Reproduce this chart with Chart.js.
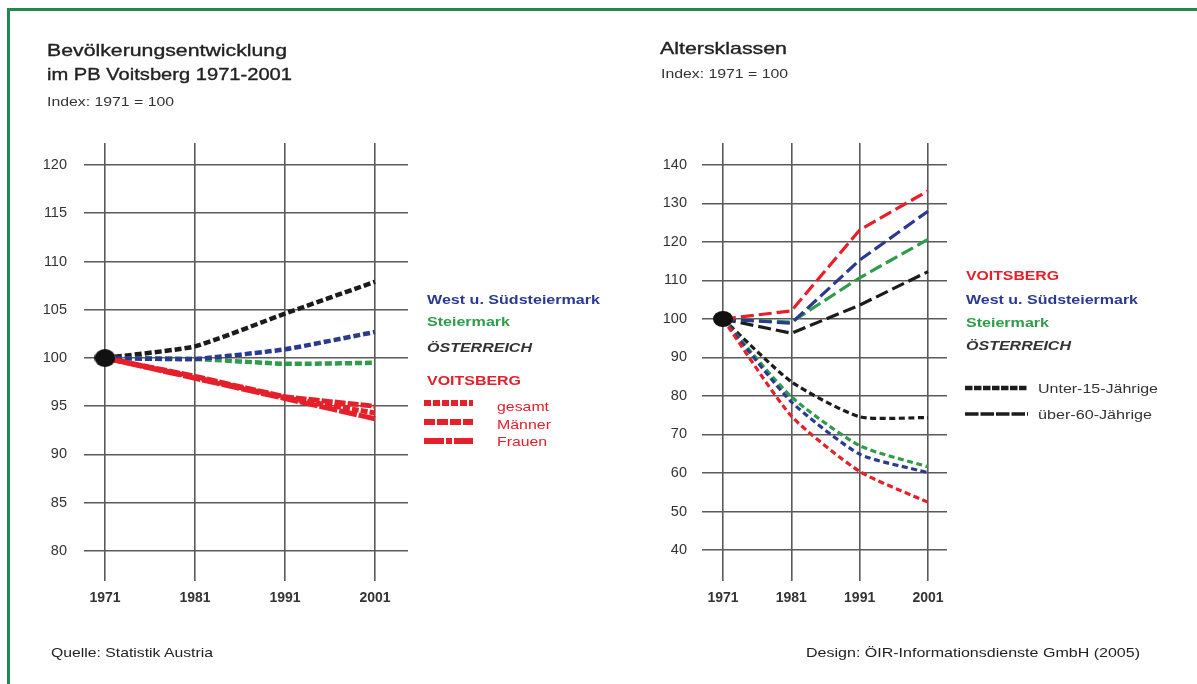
<!DOCTYPE html>
<html><head><meta charset="utf-8">
<script src="https://cdn.jsdelivr.net/npm/chart.js@4/dist/chart.umd.min.js"></script>
<style>
html,body{margin:0;padding:0;background:#fff;}
body{width:1197px;height:684px;overflow:hidden;position:relative;font-family:'Liberation Sans',Arial,sans-serif;}
#frame{position:absolute;left:7px;top:8px;width:1300px;height:800px;border-left:3px solid #1f8a4d;border-top:3px solid #1f8a4d;}
canvas{position:absolute;top:0;}
#c1{left:0;} #c2{left:600px;}
</style></head>
<body>
<div id="frame"></div>
<canvas id="c1" width="600" height="684" style="width:600px;height:684px"></canvas>
<canvas id="c2" width="597" height="684" style="width:597px;height:684px"></canvas>
<script>
// ---------- data ----------
const years = [1971, 1981, 1991, 2001];
const tickYears = [1971, 1981, 1991, 2001];
const baseYear = [1971];
const baseIndex = [100];

// Left: Bevölkerungsentwicklung (Index 1971 = 100)
const popOesterreich      = [100, 101.2, 104.6, 107.9];
const popWestSued         = [100, 99.9, 100.9, 102.7];
const popSteiermark       = [100, 99.9, 99.4, 99.5];
const popVoitsbergGesamt  = [100, 98.0, 95.9, 94.3];
const popVoitsbergMaenner = [100, 98.1, 96.0, 95.0];
const popVoitsbergFrauen  = [100, 97.9, 95.8, 93.7];
const leftYTicks = [80, 85, 90, 95, 100, 105, 110, 115, 120];

// Right: Altersklassen
const u15Voitsberg   = [100, 74.8, 60.4, 52.4];
const u15WestSued    = [100, 78.5, 64.9, 60.1];
const u15Steiermark  = [100, 79.8, 67.1, 61.6];
const u15Oesterreich = [100, 83.7, 74.6, 74.4];
const o60Voitsberg   = [100, 102.1, 123.1, 133.3];
const o60WestSued    = [100, 98.9, 115.3, 128.0];
const o60Steiermark  = [100, 99.2, 110.7, 120.7];
const o60Oesterreich = [100, 96.3, 103.6, 112.3];
const rightYTicks = [40, 50, 60, 70, 80, 90, 100, 110, 120, 130, 140];

// ---------- styles ----------
const RED='#e5202b', BLUE='#2b3a8f', GREEN='#2e9c4a', BLACK='#1c1c1c', GRID='#5a5a5a', TXT='#333';
const FAM="'Liberation Sans', Arial, sans-serif";

function xy(vals){ return years.map((y,i)=>({x:y,y:vals[i]})); }
function ellipse(w,h){
  const c=document.createElement('canvas'); c.width=w; c.height=h;
  const g=c.getContext('2d'); g.fillStyle='#111'; g.beginPath();
  g.ellipse(w/2,h/2,w/2,h/2,0,0,Math.PI*2); g.fill(); return c;
}
function ln(vals,color,width,dash,tension,order){
  return {data:xy(vals),borderColor:color,borderWidth:width,borderDash:dash,borderCapStyle:'butt',
          pointRadius:0,tension:tension,fill:false,order:order};
}
function dot(w,h){
  return {data:baseYear.map((y,i)=>({x:y,y:baseIndex[i]})),showLine:false,pointStyle:ellipse(w,h),
          pointRadius:10,order:0};
}
function scales(xmin,xmax,ymin,ymax,yTicks,yWidth,yPad){
  return {
    x:{type:'linear',min:xmin,max:xmax,
       afterBuildTicks:s=>{s.ticks=tickYears.map(v=>({value:v}));},
       afterFit:s=>{s.height=50;},
       ticks:{callback:v=>String(v),color:TXT,padding:9,font:{family:FAM,size:14,weight:'bold'},maxRotation:0,autoSkip:false},
       grid:{color:GRID,lineWidth:1.6,drawTicks:false},border:{display:false}},
    y:{type:'linear',min:ymin,max:ymax,
       afterBuildTicks:s=>{s.ticks=yTicks.map(v=>({value:v}));},
       afterFit:s=>{s.width=yWidth;},
       ticks:{callback:v=>String(v),color:TXT,padding:yPad,font:{family:FAM,size:14.5},autoSkip:false},
       grid:{color:GRID,lineWidth:1.6,drawTicks:false},border:{display:false}}
  };
}
function samplesPlugin(items){
  return {id:'samples',afterDatasetsDraw(chart){
    const g=chart.ctx; g.save();
    items.forEach(it=>{g.strokeStyle=it.color;g.lineWidth=it.w;g.setLineDash(it.dash);g.lineCap='butt';
      g.beginPath();g.moveTo(it.x0,it.y);g.lineTo(it.x1,it.y);g.stroke();});
    g.restore();}};
}
const common={animation:false,responsive:false,devicePixelRatio:1,
  plugins:{legend:{display:false},tooltip:{enabled:false}}};

// ---------- left chart ----------
new Chart(document.getElementById('c1'),{
  type:'line',
  data:{datasets:[
    ln(popOesterreich,BLACK,4.5,[7,3],0.15,4),
    ln(popWestSued,BLUE,4.5,[7,3],0.15,3),
    ln(popSteiermark,GREEN,4.5,[7,3],0.15,3),
    ln(popVoitsbergFrauen,RED,5,[18,2],0.1,2),
    ln(popVoitsbergMaenner,RED,5,[11,2],0.1,2),
    ln(popVoitsbergGesamt,RED,5,[7,2],0.1,1),
    dot(21,18)
  ]},
  options:Object.assign({},common,{
    layout:{padding:{left:0,top:143,right:192,bottom:53}},
    scales:scales(1968.667,2004.667,76.891,122.28,leftYTicks,84,17)
  }),
  plugins:[samplesPlugin([
    {x0:424,x1:473,y:403,w:6,dash:[7,2],color:RED},
    {x0:424,x1:473,y:422,w:6,dash:[11,2],color:RED},
    {x0:424,x1:473,y:441,w:6,dash:[20,2,6,2],color:RED}
  ])]
});

// ---------- right chart ----------
new Chart(document.getElementById('c2'),{
  type:'line',
  data:{datasets:[
    ln(u15Oesterreich,BLACK,3.2,[6,3.5],0.2,4),
    ln(u15Steiermark,GREEN,3.2,[6,3.5],0.2,3),
    ln(u15WestSued,BLUE,3.2,[6,3.5],0.2,2),
    ln(u15Voitsberg,RED,3.2,[6,3.5],0.2,1),
    ln(o60Oesterreich,BLACK,3.2,[13,5],0,4),
    ln(o60Steiermark,GREEN,3.2,[13,5],0,3),
    ln(o60WestSued,BLUE,3.2,[13,5],0,2),
    ln(o60Voitsberg,RED,3.2,[13,5],0,1),
    dot(20,16)
  ]},
  options:Object.assign({},common,{
    layout:{padding:{left:0,top:143,right:250,bottom:53}},
    scales:scales(1967.93,2003.78,31.95,145.71,rightYTicks,102,15)
  }),
  plugins:[samplesPlugin([
    {x0:365,x1:428,y:388,w:4.5,dash:[7.5,1.5],color:BLACK},
    {x0:365,x1:428,y:414,w:3.5,dash:[13.5,2],color:BLACK}
  ])]
});

// ---------- text ----------
const texts=[
  {t:'Bevölkerungsentwicklung',x:47,b:56,w:240,s:17,c:'#222',k:0.35},
  {t:'im PB Voitsberg 1971-2001',x:47,b:80,w:245,s:17,c:'#222',k:0.35},
  {t:'Index: 1971 = 100',x:47,b:107,w:127,s:12.5,c:TXT},
  {t:'Altersklassen',x:660,b:54,w:127,s:17,c:'#222',k:0.35},
  {t:'Index: 1971 = 100',x:661,b:79,w:127,s:12.5,c:TXT},
  {t:'West u. Südsteiermark',x:427,b:304,w:173,s:13.5,c:BLUE,fw:'bold'},
  {t:'Steiermark',x:427,b:326,w:83,s:13.5,c:GREEN,fw:'bold'},
  {t:'ÖSTERREICH',x:427,b:352,w:105,s:13.5,c:'#333',fw:'bold',fs:'italic'},
  {t:'VOITSBERG',x:427,b:385,w:94,s:13.5,c:RED,fw:'bold'},
  {t:'gesamt',x:497,b:411,w:52,s:13.5,c:RED},
  {t:'Männer',x:497,b:429,w:54,s:13.5,c:RED},
  {t:'Frauen',x:497,b:446,w:50,s:13.5,c:RED},
  {t:'VOITSBERG',x:966,b:280,w:93,s:13.5,c:RED,fw:'bold'},
  {t:'West u. Südsteiermark',x:966,b:304,w:172,s:13.5,c:BLUE,fw:'bold'},
  {t:'Steiermark',x:966,b:327,w:83,s:13.5,c:GREEN,fw:'bold'},
  {t:'ÖSTERREICH',x:966,b:350,w:105,s:13.5,c:'#333',fw:'bold',fs:'italic'},
  {t:'Unter-15-Jährige',x:1038,b:393,w:120,s:13.5,c:'#333'},
  {t:'über-60-Jährige',x:1038,b:419,w:114,s:13.5,c:'#333'},
  {t:'Quelle: Statistik Austria',x:51,b:657,w:162,s:13,c:'#222'},
  {t:'Design: ÖIR-Informationsdienste GmbH (2005)',x:806,b:657,w:334,s:13,c:'#222'}
];
texts.forEach(o=>{
  const el=document.createElement('div');
  el.textContent=o.t;
  el.style.cssText=`position:absolute;white-space:nowrap;line-height:1;font-family:${FAM};font-size:${o.s}px;`+
    `font-weight:${o.fw||'normal'};font-style:${o.fs||'normal'};color:${o.c};left:${o.x}px;top:${o.b-0.8465*o.s}px;`+
    `transform-origin:0 0;`+(o.k?`-webkit-text-stroke:${o.k}px ${o.c};`:'');
  document.body.appendChild(el);
  const w=el.getBoundingClientRect().width;
  if(o.w&&w>0) el.style.transform=`scaleX(${(o.w/w).toFixed(4)})`;
});
</script>
</body></html>
